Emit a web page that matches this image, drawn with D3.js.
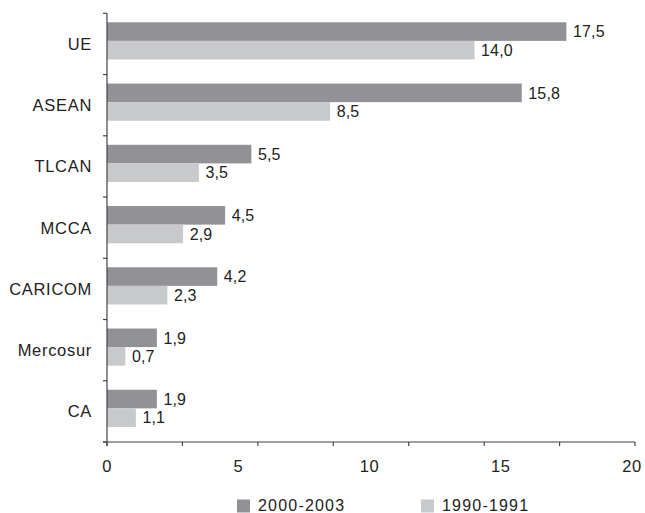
<!DOCTYPE html>
<html><head><meta charset="utf-8">
<script src="https://cdn.jsdelivr.net/npm/d3@7"></script>
<style>body{margin:0;background:#fff}svg{display:block}text{font-family:"Liberation Sans",Arial,sans-serif;fill:#222}</style>
</head><body>
<script>
const categories = ["UE","ASEAN","TLCAN","MCCA","CARICOM","Mercosur","CA"];
const series2000 = [17.5,15.8,5.5,4.5,4.2,1.9,1.9];
const series1990 = [14.0,8.5,3.5,2.9,2.3,0.7,1.1];
const seriesNames = ["2000-2003","1990-1991"];
const xTickLabels = [0,5,10,15,20];

const W=645,H=513;
const svg=d3.select("body").append("svg").attr("width",W).attr("height",H);
const x0=107, x1=632, axisEnd=635, yTop=13.3, yBot=442;
const x=d3.scaleLinear().domain([0,20]).range([x0,x1]);
const y=d3.scaleBand().domain(categories).range([yTop,yBot]).paddingInner(0).paddingOuter(0);
const bw=y.bandwidth();
const barH=18.6, off=9;
const colors=["#929296","#c8c9cb"];
const fmt=v=>d3.format(".1f")(v).replace(".",",");

const g=svg.append("g");
[series2000,series1990].forEach((s,si)=>{
  g.selectAll(null).data(categories).enter().append("rect")
    .attr("x",x(0)).attr("y",c=>y(c)+off+si*barH)
    .attr("width",(c,i)=>x(s[i])-x(0)).attr("height",barH)
    .attr("fill",colors[si]);
  g.selectAll(null).data(categories).enter().append("text")
    .attr("x",(c,i)=>x(s[i])+6.5).attr("y",c=>y(c)+off+si*barH+barH/2)
    .attr("dy","0.36em").attr("font-size",16).attr("letter-spacing",0.2).text((c,i)=>fmt(s[i]));
});

// y axis
const ax=svg.append("g").attr("stroke","#444").attr("stroke-width",1.2);
ax.append("line").attr("x1",x0).attr("x2",x0).attr("y1",yTop).attr("y2",yBot+4);
const yTicks=categories.map(c=>y(c)).concat([yBot]);
ax.selectAll(null).data(yTicks).enter().append("line")
  .attr("x1",x0-4).attr("x2",x0).attr("y1",d=>d).attr("y2",d=>d);
// x axis
ax.append("line").attr("x1",x0-4).attr("x2",axisEnd).attr("y1",yBot).attr("y2",yBot);
const nT=7;
const tickPos=d3.range(nT+1).map(i=>x0+(axisEnd-x0)*i/nT);
ax.selectAll(null).data(tickPos).enter().append("line")
  .attr("x1",d=>d).attr("x2",d=>d).attr("y1",yBot).attr("y2",yBot+4);

svg.selectAll(null).data(xTickLabels).enter().append("text")
  .attr("x",d=>x(d)).attr("y",472).attr("text-anchor","middle").attr("font-size",16.5).attr("letter-spacing",0.5).text(d=>d);

svg.selectAll(null).data(categories).enter().append("text")
  .attr("x",92).attr("y",c=>y(c)+bw/2).attr("dy","0.36em").attr("text-anchor","end")
  .attr("font-size",16.5).attr("letter-spacing",0.7).text(c=>c);

// legend
const lx=[237,421];
seriesNames.forEach((n,i)=>{
  svg.append("rect").attr("x",lx[i]).attr("y",499.5).attr("width",13).attr("height",13).attr("fill",colors[i]);
  svg.append("text").attr("x",lx[i]+21).attr("y",510.5).attr("font-size",16).attr("letter-spacing",1.2).text(n);
});
</script>
</body></html>
